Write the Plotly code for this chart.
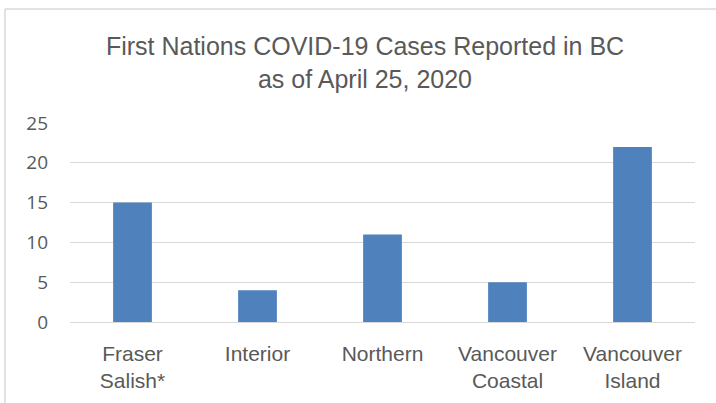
import plotly.graph_objects as go

regions = ["Fraser Salish*", "Interior", "Northern", "Vancouver Coastal", "Vancouver Island"]
tick_labels = ["Fraser<br>Salish*", "Interior", "Northern", "Vancouver<br>Coastal", "Vancouver<br>Island"]
cases = [15, 4, 11, 5, 22]
y_ticks = [0, 5, 10, 15, 20, 25]

W, H = 716, 403
L, R, T, B = 70, 21, 123, 81
pw = W - L - R
ph = H - T - B

fig = go.Figure(go.Bar(
    x=regions, y=cases,
    marker=dict(color="#4F81BD", line=dict(width=0)),
    hoverinfo="x+y",
))

fig.update_layout(
    width=W, height=H,
    margin=dict(l=L, r=R, t=T, b=B),
    paper_bgcolor="white", plot_bgcolor="white",
    bargap=0.69,
    showlegend=False,
    title=dict(
        text="First Nations COVID-19 Cases Reported in BC<br>as of April 25, 2020",
        x=365 / W, xanchor="center", xref="container",
        y=1 - 55 / H, yanchor="middle", yref="container",
        font=dict(family="Liberation Sans, Arial", size=25, color="#595959"),
    ),
    xaxis=dict(
        tickmode="array", tickvals=regions, ticktext=tick_labels,
        tickfont=dict(family="Liberation Sans, Arial", size=21, color="#595959"),
        showgrid=False, showline=False, ticks="", zeroline=False,
        ticklabelstandoff=17,
    ),
    yaxis=dict(
        range=[0, 25], tickmode="array", tickvals=y_ticks,
        tickfont=dict(family="Open Sans, Noto Sans", size=19, color="#595959"),
        showgrid=True, gridcolor="#D9D9D9", gridwidth=1,
        zeroline=True, zerolinecolor="#D9D9D9", zerolinewidth=1,
        showline=False, ticks="", ticklabelstandoff=21,
    ),
    shapes=[
        dict(type="line", xref="paper", yref="paper",
             x0=(5 - L) / pw, x1=(W - L) / pw,
             y0=(H - B - 9) / ph, y1=(H - B - 9) / ph,
             line=dict(color="#D9D9D9", width=1.5)),
        dict(type="line", xref="paper", yref="paper",
             x0=(5 - L) / pw, x1=(5 - L) / pw,
             y0=(H - B - 9) / ph, y1=(H - B - H) / ph,
             line=dict(color="#D9D9D9", width=1.5)),
    ],
)

fig.write_html("out.html", config={"displayModeBar": False},
               post_script="document.body.style.margin='0';document.body.style.overflow='hidden';")
